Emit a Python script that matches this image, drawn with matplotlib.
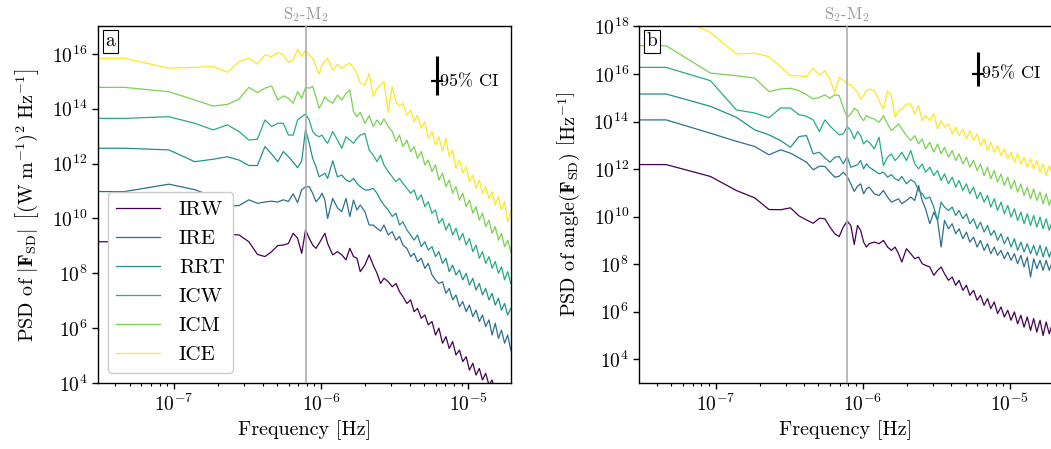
import numpy as np
import matplotlib.pyplot as plt
from matplotlib.ticker import LogLocator, NullLocator

plt.rcParams['font.family'] = 'serif'
plt.rcParams['font.serif'] = ['cmr10']
plt.rcParams['mathtext.fontset'] = 'cm'
plt.rcParams['axes.formatter.use_mathtext'] = True
plt.rcParams['axes.linewidth'] = 1.0

# frequency bins (multiples of the spectral resolution), bin 0 = mean
df = 4.61e-8
k_bins = [0, 1, 2, 3, 4, 5, 6, 7, 8, 9, 10, 11, 12, 13, 14, 15, 16, 17,
          18, 19, 20, 21, 22, 23, 24,
          26, 28, 30, 32, 34, 36, 38, 40,
          43, 46, 49, 52, 55, 58,
          62, 66, 70, 74, 78,
          83, 88, 93, 98,
          104, 110, 116,
          123, 130, 137, 145, 153, 161,
          170, 179, 189, 199,
          210, 221, 233, 245, 258, 271, 285, 300, 315, 331, 348, 365, 383, 402, 422]
f_s2m2 = 7.84e-7

sites = ['IRW', 'IRE', 'RRT', 'ICW', 'ICM', 'ICE']

# log10 PSD of |F_SD|
a_IRW = [9.15, 9.15, 9.30, 9.25, 9.30, 9.42, 9.40, 9.15, 8.69, 8.61, 8.79, 9.01, 9.03, 9.09, 9.46, 9.28, 8.73, 9.58,
         9.28, 9.03, 8.91, 9.09, 9.28, 9.46, 9.09,
         8.67, 8.79, 8.67, 8.49, 8.91, 8.61, 8.55, 8.06,
         8.30, 8.67, 8.30, 8.00, 7.63, 7.82,
         7.69, 7.51, 7.63, 7.33, 7.15,
         6.90, 7.03, 6.60, 6.72,
         6.36, 6.48, 6.12,
         6.24, 5.75, 6.00, 5.45, 5.69, 5.26,
         5.51, 5.02, 5.20, 4.78,
         4.96, 4.47, 4.72, 4.29, 4.53, 4.11, 4.35, 3.93, 4.11, 3.68, 3.80, 3.44, 3.56, 3.20, 3.32]
a_IRE = [10.98, 10.98, 11.25, 11.05, 10.80, 10.45, 10.47, 10.68, 10.55, 10.60, 10.63, 10.60, 10.68, 10.62, 10.90, 10.58, 11.05, 11.15,
         11.16, 10.92, 10.61, 10.73, 10.92, 10.67, 10.00,
         10.73, 10.39, 10.25, 10.73, 10.07, 10.67, 10.31, 10.49,
         10.25, 9.76, 9.76, 9.64, 9.54, 9.76,
         9.40, 9.52, 9.21, 9.34, 9.03,
         8.91, 8.61, 8.73, 8.42,
         8.55, 8.18, 8.36,
         7.94, 7.76, 7.63, 7.69, 7.27, 7.45,
         7.03, 7.21, 6.78, 6.97,
         6.60, 6.84, 6.42, 6.66, 6.24, 6.48, 6.06, 6.30, 5.75, 6.18, 5.63, 5.93, 5.45, 5.75, 5.20]
a_RRT = [12.56, 12.56, 12.50, 12.07, 12.16, 12.25, 12.13, 11.93, 11.93, 12.62, 12.35, 12.07, 12.44, 12.25, 12.05, 11.85, 12.10, 13.25,
         12.74, 12.19, 11.89, 11.52, 11.58, 11.65, 11.46,
         12.10, 11.52, 11.58, 11.40, 11.34, 11.46, 11.28, 11.16,
         11.04, 11.04, 11.10, 10.92, 10.67, 10.49,
         10.31, 10.07, 10.19, 9.76, 9.88,
         9.58, 9.40, 9.21, 9.40,
         8.97, 9.15, 8.85,
         8.97, 8.61, 8.79, 8.36, 8.55, 8.06,
         8.30, 7.94, 8.12, 7.76,
         8.00, 7.57, 7.82, 7.39, 7.63, 7.21, 7.45, 7.03, 7.27, 6.84, 7.09, 6.66, 6.90, 6.48, 6.72]
a_ICW = [13.65, 13.65, 13.71, 13.47, 13.23, 13.41, 13.17, 12.86, 12.89, 13.59, 13.35, 13.47, 13.47, 13.04, 13.04, 13.59, 13.71, 13.81,
         13.59, 13.17, 13.04, 12.98, 13.04, 12.86, 12.74,
         13.17, 12.86, 12.56, 12.98, 12.86, 12.74, 12.92, 13.04,
         13.10, 12.50, 12.31, 12.07, 12.31, 11.95,
         11.71, 11.52, 11.34, 11.46, 11.28,
         11.10, 10.92, 11.04, 10.67,
         10.86, 10.43, 10.61,
         10.19, 10.31, 9.82, 10.00, 9.58, 9.82,
         9.40, 9.64, 9.21, 9.46,
         9.03, 9.27, 8.79, 9.03, 8.55, 8.79, 8.36, 8.61, 8.18, 8.43, 8.00, 8.24, 7.76, 8.06, 7.63]
a_ICM = [14.78, 14.78, 14.62, 14.32, 14.10, 14.16, 14.35, 14.78, 14.59, 14.75, 14.83, 14.32, 14.47, 14.38, 14.20, 14.62, 14.38, 14.78,
         14.75, 14.81, 14.44, 14.02, 14.20, 14.44, 14.32,
         14.20, 14.50, 14.32, 14.56, 14.68, 13.90, 13.71, 13.87,
         13.47, 13.75, 13.35, 13.59, 13.41, 13.63,
         13.35, 13.17, 12.80, 13.04, 12.62,
         12.86, 12.44, 12.62, 12.19,
         12.44, 11.95, 12.13,
         11.71, 11.95, 11.40, 11.65, 11.16, 11.40,
         10.92, 11.16, 10.67, 10.92,
         10.43, 10.67, 10.19, 10.43, 9.94, 10.19, 9.70, 9.94, 9.46, 9.70, 9.21, 9.46, 8.97, 9.21, 8.79]
a_ICE = [15.84, 15.84, 15.48, 15.51, 15.54, 15.33, 15.72, 15.84, 15.63, 15.96, 15.90, 16.05, 15.96, 15.70, 15.78, 16.17, 15.90, 16.14,
         15.96, 15.84, 15.54, 15.26, 15.60, 15.72, 15.84,
         15.41, 15.62, 15.47, 15.60, 15.66, 15.50, 15.29, 14.93,
         14.87, 15.29, 14.44, 14.75, 14.87, 14.99,
         13.87, 14.81, 14.26, 14.08, 14.20,
         13.77, 13.96, 13.53, 13.77,
         13.29, 13.53, 12.92,
         13.17, 12.68, 12.98, 12.44, 12.92, 12.25,
         12.50, 11.83, 12.13, 11.65,
         11.89, 11.34, 11.58, 11.10, 11.40, 10.92, 11.16, 10.73, 10.98, 10.49, 10.80, 10.31, 10.61, 9.88, 10.25]

# log10 PSD of angle(F_SD)
b_IRW = [12.19, 12.19, 11.69, 11.10, 10.79, 10.30, 10.29, 10.37, 10.03, 9.86, 9.72, 9.93, 9.91, 9.56, 9.28, 9.16, 9.56, 9.81,
         9.63, 8.83, 9.63, 9.42, 8.93, 8.72, 8.86,
         8.93, 8.86, 9.00, 8.72, 8.58, 8.72, 8.44, 8.09,
         8.65, 8.44, 8.23, 8.30, 8.02, 7.95,
         7.88, 7.53, 7.74, 7.88, 7.60,
         7.32, 7.46, 7.11, 7.32,
         6.90, 7.11, 6.69,
         6.90, 6.48, 6.69, 6.27, 6.55, 6.13,
         6.41, 5.92, 6.20, 5.78,
         6.06, 5.64, 5.99, 5.49, 5.85, 5.35, 5.78, 5.21, 5.71, 5.14, 5.64, 5.00, 5.57, 5.07, 5.49]
b_IRE = [14.07, 14.07, 13.51, 13.17, 12.95, 12.60, 12.81, 12.67, 12.47, 12.29, 11.97, 12.12, 12.11, 11.87, 11.66, 11.70, 11.87, 11.69,
         11.38, 11.06, 11.28, 11.38, 10.96, 11.17, 11.24,
         10.96, 10.89, 11.10, 10.82, 10.61, 10.68, 10.75, 10.54,
         10.68, 10.82, 10.68, 11.31, 10.68, 10.33,
         9.70, 10.19, 9.84, 8.72, 9.84,
         9.49, 9.70, 9.28, 9.49,
         9.07, 9.35, 8.93,
         9.14, 8.72, 9.00, 8.58, 8.86, 8.44,
         8.72, 8.37, 8.58, 8.23,
         8.51, 8.16, 8.44, 8.02, 8.37, 7.88, 8.30, 7.46, 8.23, 7.81, 8.16, 7.74, 8.16, 7.74, 8.09]
b_RRT = [15.16, 15.16, 14.64, 14.18, 13.65, 13.44, 13.20, 12.92, 13.37, 13.41, 12.64, 12.71, 12.47, 12.29, 12.50, 12.53, 12.22, 12.53,
         12.08, 12.13, 12.18, 12.36, 12.01, 12.22, 12.08,
         11.94, 11.80, 11.87, 11.66, 11.77, 11.59, 11.52, 11.69,
         11.38, 11.55, 11.45, 11.10, 10.96, 10.75,
         10.82, 10.40, 9.84, 10.61, 10.40,
         10.26, 10.40, 10.05, 10.26,
         9.91, 10.12, 9.70,
         9.91, 9.49, 9.77, 9.35, 9.63, 9.21,
         9.42, 9.00, 9.28, 8.86,
         9.14, 8.72, 9.07, 8.58, 8.93, 8.51, 8.86, 8.44, 8.79, 8.37, 8.79, 8.30, 8.72, 8.30, 8.65]
b_ICW = [16.28, 16.28, 15.72, 14.49, 14.36, 14.16, 14.57, 14.57, 14.29, 14.22, 14.07, 13.58, 14.07, 13.81, 13.62, 13.44, 13.48, 13.79,
         13.62, 13.27, 13.58, 13.41, 13.06, 13.20, 13.13,
         12.85, 13.34, 12.15, 12.50, 12.64, 12.36, 12.50, 12.71,
         12.36, 12.78, 12.22, 12.01, 12.22, 11.87,
         12.08, 11.73, 11.94, 11.52, 11.80,
         11.38, 11.66, 11.24, 11.52,
         11.10, 11.38, 10.96,
         11.24, 10.75, 11.03, 10.61, 10.89, 10.40,
         10.75, 10.26, 10.61, 10.12,
         10.47, 9.98, 10.33, 9.84, 10.19, 9.70, 10.12, 9.63, 10.05, 9.56, 9.98, 9.49, 9.91, 9.42, 9.84]
b_ICM = [17.19, 17.19, 16.04, 15.93, 15.83, 15.26, 15.37, 15.40, 15.30, 15.13, 14.95, 15.02, 15.12, 14.98, 15.13, 15.09, 14.60, 14.18,
         14.32, 14.57, 14.46, 14.18, 14.04, 14.25, 14.18,
         14.11, 13.97, 14.25, 13.90, 13.62, 13.76, 13.90, 13.69,
         13.41, 13.20, 13.41, 13.06, 13.27, 12.85,
         13.13, 12.71, 13.06, 12.64, 12.92,
         12.50, 12.78, 12.36, 12.64,
         12.22, 12.50, 12.08,
         12.36, 11.94, 12.22, 11.73, 12.08, 11.59,
         11.94, 11.45, 11.80, 11.31,
         11.66, 11.17, 11.52, 11.03, 11.38, 10.89, 11.24, 10.75, 11.17, 10.68, 11.03, 10.54, 10.96, 10.47, 10.89]
b_ICE = [18.60, 18.60, 17.75, 16.84, 16.88, 16.73, 16.30, 15.93, 15.92, 15.90, 16.25, 15.96, 16.14, 15.79, 15.23, 15.86, 15.75, 15.58,
         15.55, 15.37, 15.23, 14.95, 15.09, 15.30, 15.37,
         15.30, 14.88, 14.53, 15.30, 15.09, 14.18, 14.46, 14.53,
         14.74, 14.74, 14.32, 14.67, 14.04, 14.25,
         14.04, 14.32, 13.69, 14.04, 13.76,
         13.90, 13.48, 13.76, 13.41,
         13.69, 13.27, 13.62,
         13.20, 13.48, 12.99, 13.27, 12.78, 13.13,
         12.71, 12.99, 12.57, 12.85,
         12.43, 12.71, 12.29, 12.64, 12.22, 12.50, 12.08, 12.43, 12.01, 12.36, 11.87, 12.22, 11.73, 12.15, 11.80]

# 95% confidence interval marker (log10 offsets below / above)
ci_freq = 6.1e-6
ci_center_a = 15.0
ci_center_b = 16.0
ci_down = 0.5
ci_up = 0.94

psd_a = [a_IRW, a_IRE, a_RRT, a_ICW, a_ICM, a_ICE]
psd_b = [b_IRW, b_IRE, b_RRT, b_ICW, b_ICM, b_ICE]
colors = [plt.cm.viridis(v) for v in (0.0, 0.36, 0.5, 0.62, 0.8, 1.0)]
freq = df * np.array(k_bins, dtype=float)

fig = plt.figure(figsize=(10.51, 4.49), dpi=100)
ax_a = fig.add_axes([0.0930, 0.147, 0.393, 0.794])
ax_b = fig.add_axes([0.6083, 0.147, 0.393, 0.794])


def draw_panel(ax, series, ylim, ci_center, letter, ylabel):
    for name, vals, c in zip(sites, series, colors):
        ax.loglog(freq, 10 ** np.array(vals), color=c, lw=0.9, label=name)
    ax.axvline(f_s2m2, color='0.68', lw=1.2, zorder=3)
    ax.text(f_s2m2, 1.006, r'S$_2$-M$_2$', transform=ax.get_xaxis_transform(),
            ha='center', va='bottom', color='0.6', fontsize=12)
    ax.set_xlim(3.03e-8, 1.946e-5)
    ax.set_ylim(*ylim)
    lo, hi = np.log10(ylim)
    first = int(np.ceil(lo))
    first += first % 2
    ax.set_yticks([10.0 ** e for e in range(first, int(hi) + 1, 2)])
    ax.yaxis.set_minor_locator(NullLocator())
    ax.xaxis.set_major_locator(LogLocator(base=10, numticks=10))
    ax.xaxis.set_minor_locator(LogLocator(base=10, subs=np.arange(2, 10), numticks=20))
    ax.tick_params(which='major', labelsize=14, length=4, width=1)
    ax.tick_params(which='minor', length=2.5, width=0.8)
    yc = 10 ** ci_center
    ax.errorbar([ci_freq], [yc], yerr=[[yc - 10 ** (ci_center - ci_down)], [10 ** (ci_center + ci_up) - yc]],
                fmt='_', color='k', elinewidth=2.2, markersize=8, mew=1.6, capsize=0)
    ax.text(ci_freq * 1.06, yc, '95% CI', ha='left', va='center', fontsize=13)
    ax.text(0.031, 0.958, letter, transform=ax.transAxes, ha='center', va='center', fontsize=14,
            bbox=dict(boxstyle='square,pad=0.15', fc='white', ec='black', lw=0.8))
    ax.set_xlabel('Frequency [Hz]', fontsize=14.5)
    ax.set_ylabel(ylabel, fontsize=14.5, labelpad=8)


draw_panel(ax_a, psd_a, (1e4, 1e17), ci_center_a, 'a',
           r'PSD of $|\mathbf{F}_{\mathrm{SD}}|$ $\left[(\mathrm{W\ m}^{-1})^2\ \mathrm{Hz}^{-1}\right]$')
draw_panel(ax_b, psd_b, (1e3, 1e18), ci_center_b, 'b',
           r'PSD of angle$(\mathbf{F}_{\mathrm{SD}})$ $\left[\mathrm{Hz}^{-1}\right]$')

ax_a.legend(loc='lower left', fontsize=15, framealpha=1.0, handlelength=2.1,
            handletextpad=0.9, labelspacing=0.5)

fig.savefig('out.png', dpi=100)
